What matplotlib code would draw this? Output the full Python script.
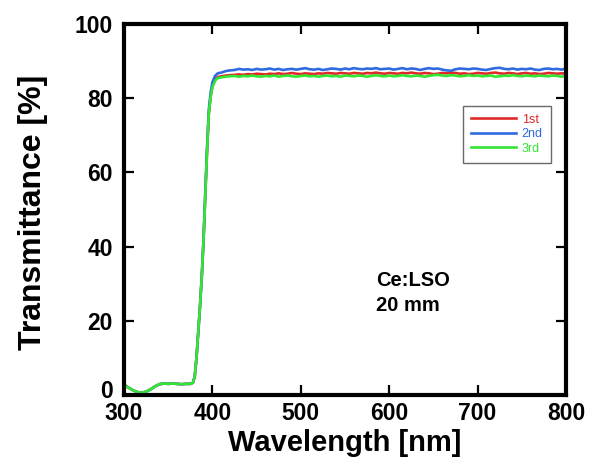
import matplotlib
matplotlib.use("Agg")
import matplotlib.pyplot as plt
import matplotlib.transforms as mtransforms
import numpy as np

plt.rcParams['font.family'] = ['Liberation Sans', 'DejaVu Sans']
plt.rcParams['font.weight'] = 'bold'

# Absorption edge region (the three measurements nearly coincide below ~396 nm)
edge_wl = [300, 305, 310, 315, 320, 325, 330, 335, 340, 345, 350, 355, 360,
           365, 370, 375, 378, 380, 382, 384, 386, 388, 390, 392, 394, 396,
           398, 400, 403, 406]
edge_1st = [2.8, 2.0, 1.3, 0.8, 0.6, 0.9, 1.5, 2.3, 2.9, 3.1, 3.0, 3.1, 3.0,
            2.9, 3.0, 3.0, 3.3, 5.0, 10.0, 17.0, 24.0, 32.0, 42.0, 54.0, 66.0, 76.0,
            80.5, 83.2, 84.9, 85.7]
edge_2nd = [2.8, 2.0, 1.3, 0.8, 0.6, 0.9, 1.5, 2.3, 2.9, 3.1, 3.0, 3.1, 3.0,
            2.9, 3.0, 3.0, 3.3, 5.0, 10.0, 17.0, 24.0, 32.0, 42.0, 55.0, 67.0, 77.0,
            81.5, 84.3, 86.0, 86.7]
edge_3rd = [2.8, 2.0, 1.3, 0.8, 0.6, 0.9, 1.5, 2.3, 2.9, 3.1, 3.0, 3.1, 3.0,
            2.9, 3.0, 3.0, 3.3, 5.0, 10.0, 17.0, 24.0, 32.0, 42.0, 54.0, 66.0, 76.0,
            80.3, 83.0, 84.7, 85.4]

# Plateau region, 410-800 nm in 5 nm steps
plat_wl = list(range(410, 805, 5))
plat_1st = [85.9, 86.1, 86.2, 86.3, 86.4, 86.3, 86.5, 86.4, 86.6, 86.5,
            86.4, 86.6, 86.5, 86.7, 86.5, 86.6, 86.8, 86.6, 86.5, 86.7,
            86.6, 86.5, 86.7, 86.6, 86.8, 86.7, 86.6, 86.8, 86.7, 86.6,
            86.8, 86.7, 86.6, 86.8, 86.7, 86.9, 86.7, 86.6, 86.8, 86.7,
            86.6, 86.8, 86.7, 86.9, 86.7, 86.6, 86.8, 86.7, 86.5, 86.6,
            86.8, 86.7, 86.9, 86.8, 86.6, 86.7, 86.5, 86.6, 86.8, 86.7,
            86.6, 86.8, 86.9, 86.7, 86.6, 86.8, 86.7, 86.5, 86.7, 86.8,
            86.6, 86.7, 86.5, 86.6, 86.8, 86.7, 86.6, 86.7, 86.6]
plat_2nd = [86.9, 87.3, 87.5, 87.6, 87.9, 87.7, 87.8, 87.6, 87.9, 87.7,
            87.8, 88.0, 87.7, 87.9, 87.6, 87.8, 87.9, 87.7, 87.9, 88.1,
            87.8, 87.7, 87.9, 87.6, 87.8, 88.0, 87.9, 87.7, 88.0, 87.8,
            88.1, 87.9, 87.8, 88.0, 87.9, 88.1, 87.8, 87.9, 88.0, 87.7,
            87.9, 88.1, 87.8, 88.0, 87.9, 87.6, 87.9, 88.1, 87.9, 88.0,
            87.7, 87.5, 87.4, 87.8, 88.0, 87.9, 87.8, 88.0, 87.9, 87.7,
            87.6, 87.9, 88.1, 88.2, 87.9, 87.8, 88.0, 87.7, 87.9, 87.8,
            88.0, 87.7, 87.6, 87.9, 88.0, 87.8, 87.9, 87.7, 88.0]
plat_3rd = [85.6, 85.8, 85.9, 86.0, 85.8, 86.0, 85.9, 86.1, 85.9, 85.8,
            86.0, 85.9, 86.1, 85.8, 86.0, 86.1, 85.9, 85.8, 86.0, 86.1,
            85.9, 86.0, 85.8, 86.0, 86.1, 85.9, 86.0, 85.8, 86.1, 86.0,
            85.9, 86.1, 86.0, 85.8, 86.0, 86.2, 86.0, 85.9, 86.1, 85.9,
            86.0, 86.2, 86.0, 85.9, 86.1, 86.0, 85.8, 86.0, 86.2, 86.3,
            86.1, 86.0, 86.2, 86.1, 85.9, 86.0, 86.2, 86.0, 86.1, 85.9,
            86.0, 86.1, 85.8, 85.9, 86.1, 86.0, 86.2, 86.0, 85.9, 86.1,
            86.0, 85.9, 86.1, 86.0, 85.9, 86.1, 86.0, 85.8, 86.0]

wl = np.array(edge_wl + plat_wl)
series = [
    ("1st", np.array(edge_1st + plat_1st), "#e02a2a"),
    ("2nd", np.array(edge_2nd + plat_2nd), "#2f6ae0"),
    ("3rd", np.array(edge_3rd + plat_3rd), "#33e633"),
]

fig = plt.figure(figsize=(5.98, 4.68), dpi=100)
ax = fig.add_axes([124 / 598, 1 - 395 / 468, 442 / 598, 371 / 468])

for label, vals, color in series:
    ax.plot(wl, vals, color=color, lw=1.9, label=label)

ax.set_xlim(300, 800)
ax.set_ylim(0, 100)
ax.set_xticks(np.arange(300, 801, 100))
ax.set_yticks(np.arange(0, 101, 20))
ax.tick_params(direction='in', length=7, width=1.6, top=True, right=True,
               labelsize=16.5)
ax.tick_params(axis='y', pad=8)
ax.tick_params(axis='x', pad=5)
for lab in ax.get_xticklabels() + ax.get_yticklabels():
    lab.set_fontweight('bold')
for sp in ax.spines.values():
    sp.set_linewidth(3)

# nudge the "0" label up so it clears the "300" label below it
zero_lab = ax.yaxis.get_major_ticks()[0].label1
zero_lab.set_transform(zero_lab.get_transform() +
                       mtransforms.ScaledTranslation(0, 4 / 72, fig.dpi_scale_trans))

ax.set_xlabel("Wavelength [nm]", fontsize=21, fontweight='bold', labelpad=3)
ax.set_ylabel("Transmittance [%]", fontsize=23, fontweight='bold')
ax.yaxis.set_label_coords(-0.171, 0.493)

ax.text(0.57, 0.275, "Ce:LSO\n20 mm", transform=ax.transAxes, fontsize=14.5,
        fontweight='bold', ha='left', va='center', linespacing=1.35)

leg = ax.legend(loc='upper left', bbox_to_anchor=(0.767, 0.78), fontsize=9,
                frameon=True, fancybox=False, handlelength=3.6,
                handletextpad=0.45, labelspacing=0.2, borderpad=0.65,
                borderaxespad=0)
leg.get_frame().set_edgecolor('#444444')
leg.get_frame().set_linewidth(1.0)
for txt, (_, _, color) in zip(leg.get_texts(), series):
    txt.set_color(color)
    txt.set_fontweight('normal')

fig.savefig("out.png", dpi=100)
